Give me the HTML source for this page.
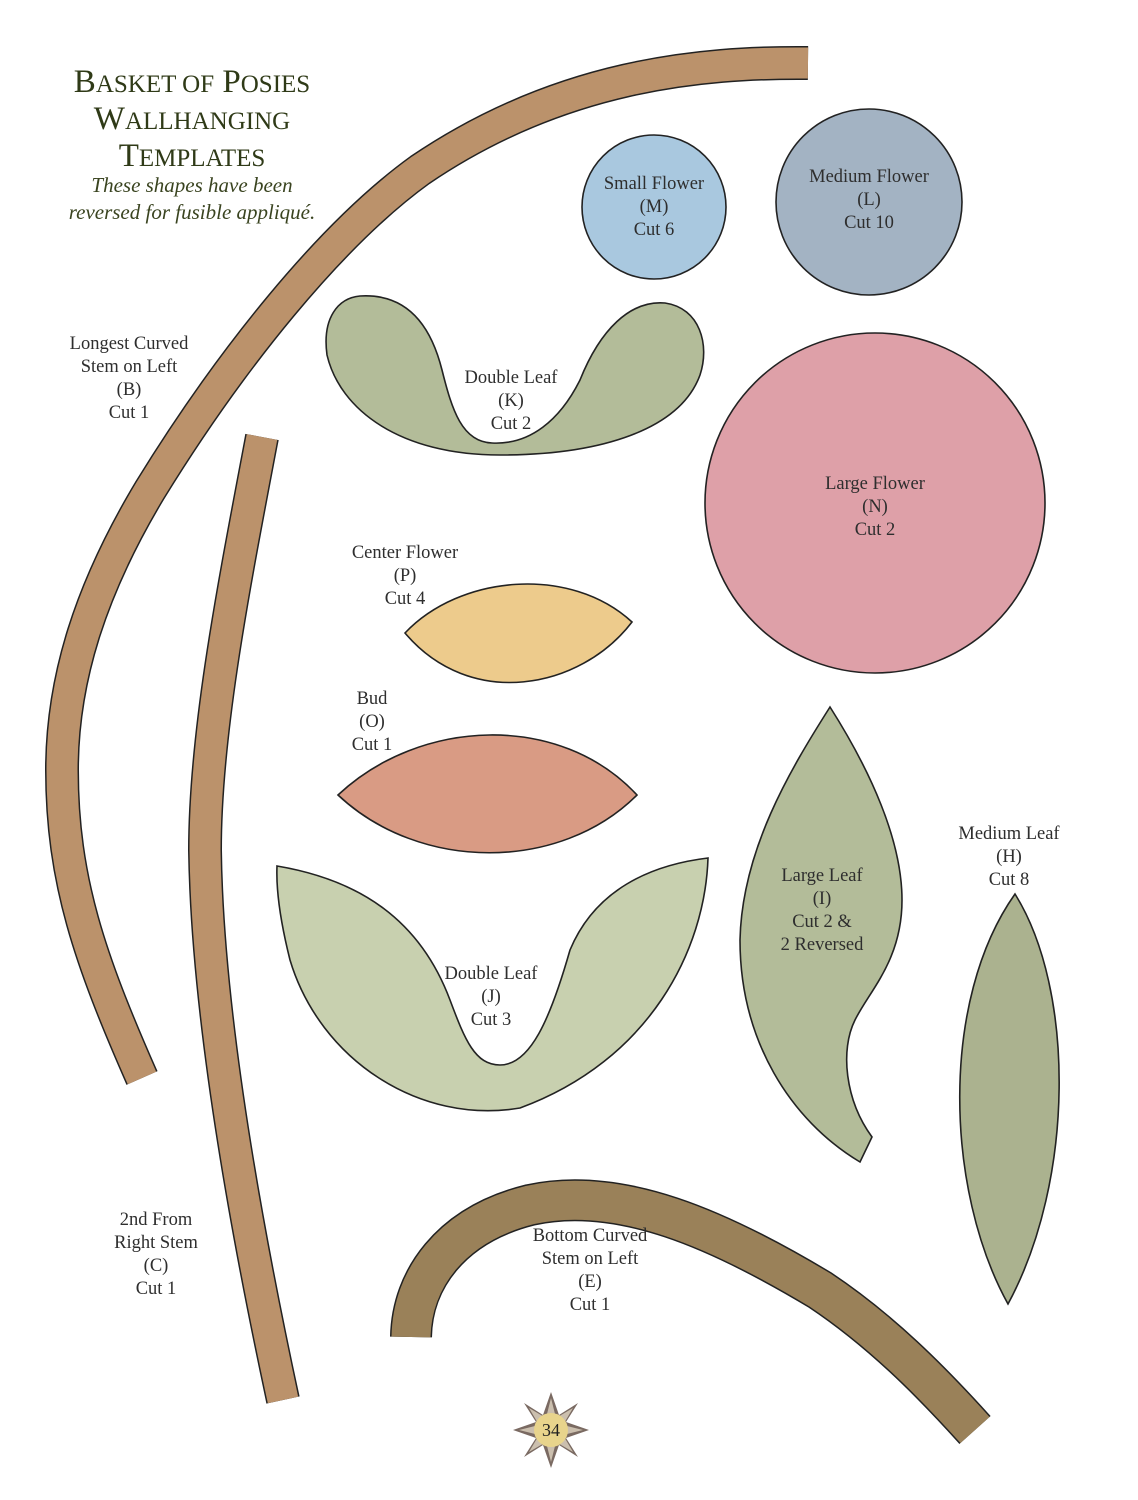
<!DOCTYPE html>
<html><head><meta charset="utf-8"><style>
html,body{margin:0;padding:0;background:#fff;}
svg{display:block;}
text{font-family:"Liberation Serif",serif;fill:#2e2e2e;font-size:18.5px;text-anchor:middle;}
.t{fill:#2f3a17;font-size:33px;}
.ts{fill:#2f3a17;font-size:25px;}
.i{fill:#3a4420;font-size:21px;font-style:italic;}
</style></head><body>
<svg width="1138" height="1500" viewBox="0 0 1138 1500">
<path d="M808 63 C700 62 560 75 420 170 C330 235 230 360 150 490 C90 590 62 680 62 770 C62 880 90 960 142 1078" fill="none" stroke="#222" stroke-width="34"/>
<path d="M808 63 C700 62 560 75 420 170 C330 235 230 360 150 490 C90 590 62 680 62 770 C62 880 90 960 142 1078" fill="none" stroke="#bb926b" stroke-width="31"/>
<path d="M262 437 C235 580 205 730 205 850 C207 1000 240 1200 283 1400" fill="none" stroke="#222" stroke-width="34"/>
<path d="M262 437 C235 580 205 730 205 850 C207 1000 240 1200 283 1400" fill="none" stroke="#bb926b" stroke-width="31"/>
<path d="M411 1337 C412 1280 450 1225 530 1205 C620 1185 720 1230 820 1290 C880 1330 930 1380 975 1430" fill="none" stroke="#222" stroke-width="42"/>
<path d="M411 1337 C412 1280 450 1225 530 1205 C620 1185 720 1230 820 1290 C880 1330 930 1380 975 1430" fill="none" stroke="#9a8159" stroke-width="39"/>
<g stroke="#222" stroke-width="1.6">
<circle cx="654" cy="207" r="72" fill="#a9c8df"/>
<circle cx="869" cy="202" r="93" fill="#a3b3c3"/>
<circle cx="875" cy="503" r="170" fill="#dea0a8"/>
<path d="M360 296 C410 293 432 330 442 370 C452 410 462 442 492 443 C530 445 560 420 580 380 C600 330 630 300 665 303 C700 308 710 345 700 375 C680 430 600 455 500 455 C400 455 340 410 327 355 C322 318 338 298 360 296 Z" fill="#b3bc99"/>
<path d="M405 633 C460 575 570 565 632 622 C580 690 470 710 405 633 Z" fill="#edcb8c"/>
<path d="M338 795 C420 718 560 712 637 795 C560 872 420 872 338 795 Z" fill="#d99b84"/>
<path d="M277 866 C360 880 420 920 450 1000 C465 1040 475 1065 500 1065 C530 1065 550 1020 570 950 C595 890 650 865 708 858 C705 950 650 1060 520 1108 C420 1125 320 1060 290 960 C280 920 276 890 277 866 Z" fill="#c8d0af"/>
<path d="M830 707 C870 770 902 840 902 900 C902 960 870 990 855 1020 C840 1050 845 1100 872 1137 L860 1162 C790 1120 740 1040 740 940 C742 850 790 770 830 707 Z" fill="#b3bc99"/>
<path d="M1015 894 C1075 990 1075 1180 1008 1304 C945 1190 940 1000 1015 894 Z" fill="#abb28f"/>
</g>
<g transform="translate(551,1430)">
<polygon points="0,-38 8,-15 27,-27 15,-8 38,0 15,8 27,27 8,15 0,38 -8,15 -27,27 -15,8 -38,0 -15,-8 -27,-27 -8,-15" fill="#7a6a62"/>
<polygon points="0,-32 5,-12 22,-22 12,-5 32,0 12,5 22,22 5,12 0,32 -5,12 -22,22 -12,5 -32,0 -12,-5 -22,-22 -5,-12" fill="#cbbfae"/>
<circle r="17" fill="#e8d48c"/>
<text y="6" style="font-size:18px;fill:#222">34</text>
</g>
<text x="192" y="92" class="t">B<tspan class="ts">ASKET OF</tspan> P<tspan class="ts">OSIES</tspan></text>
<text x="192" y="129" class="t">W<tspan class="ts">ALLHANGING</tspan></text>
<text x="192" y="166" class="t">T<tspan class="ts">EMPLATES</tspan></text>
<text x="192" y="192" class="i">These shapes have been</text>
<text x="192" y="219" class="i">reversed for fusible appliqué.</text>
<text x="129" y="349">Longest Curved</text><text x="129" y="372">Stem on Left</text><text x="129" y="395">(B)</text><text x="129" y="418">Cut 1</text>
<text x="654" y="189">Small Flower</text><text x="654" y="212">(M)</text><text x="654" y="235">Cut 6</text>
<text x="869" y="182">Medium Flower</text><text x="869" y="205">(L)</text><text x="869" y="228">Cut 10</text>
<text x="511" y="383">Double Leaf</text><text x="511" y="406">(K)</text><text x="511" y="429">Cut 2</text>
<text x="875" y="489">Large Flower</text><text x="875" y="512">(N)</text><text x="875" y="535">Cut 2</text>
<text x="405" y="558">Center Flower</text><text x="405" y="581">(P)</text><text x="405" y="604">Cut 4</text>
<text x="372" y="704">Bud</text><text x="372" y="727">(O)</text><text x="372" y="750">Cut 1</text>
<text x="1009" y="839">Medium Leaf</text><text x="1009" y="862">(H)</text><text x="1009" y="885">Cut 8</text>
<text x="822" y="881">Large Leaf</text><text x="822" y="904">(I)</text><text x="822" y="927">Cut 2 &amp;</text><text x="822" y="950">2 Reversed</text>
<text x="491" y="979">Double Leaf</text><text x="491" y="1002">(J)</text><text x="491" y="1025">Cut 3</text>
<text x="156" y="1225">2nd From</text><text x="156" y="1248">Right Stem</text><text x="156" y="1271">(C)</text><text x="156" y="1294">Cut 1</text>
<text x="590" y="1241">Bottom Curved</text><text x="590" y="1264">Stem on Left</text><text x="590" y="1287">(E)</text><text x="590" y="1310">Cut 1</text>
</svg>
</body></html>
